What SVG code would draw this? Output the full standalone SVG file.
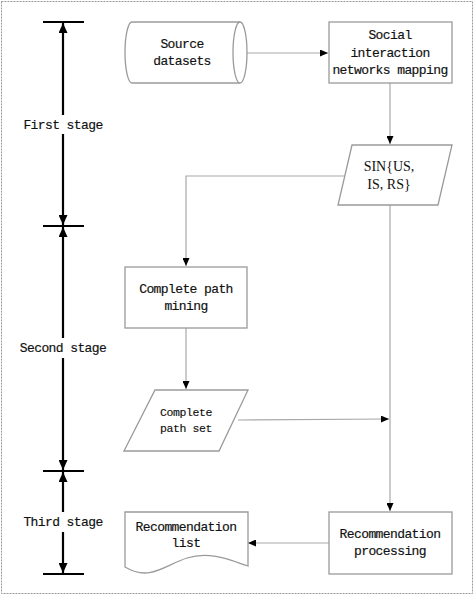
<svg xmlns="http://www.w3.org/2000/svg" width="474" height="596" viewBox="0 0 474 596">
<defs>
<style>
.t{font-family:"Liberation Mono","DejaVu Sans Mono",monospace;font-size:13px;letter-spacing:-0.6px;fill:#111;stroke:#111;stroke-width:0.18;text-anchor:middle}
.ts{font-family:"Liberation Mono","DejaVu Sans Mono",monospace;font-size:11.5px;letter-spacing:-0.4px;fill:#111;stroke:#111;stroke-width:0.15;text-anchor:middle}
.tr{font-family:"Liberation Serif","Times New Roman",serif;font-size:14px;fill:#111;text-anchor:middle}
.n{fill:#fff;stroke:#9a9a9a;stroke-width:1.3}
.c{fill:none;stroke:#a8a8a8;stroke-width:1.2}
.s{fill:none;stroke:#000;stroke-width:2.2}
.tick{stroke:#000;stroke-width:2}
</style>
<marker id="a" viewBox="0 0 8 7" refX="8" refY="3.5" markerWidth="8" markerHeight="7" markerUnits="userSpaceOnUse" orient="auto"><path d="M0,0 L8,3.5 L0,7 z" fill="#000"/></marker>
<marker id="b" viewBox="0 0 10 9" refX="10" refY="4.5" markerWidth="10" markerHeight="9" markerUnits="userSpaceOnUse" orient="auto"><path d="M0,0 L10,4.5 L0,9 z" fill="#000"/></marker>
</defs>
<rect x="1.5" y="1.5" width="471" height="592" fill="#fff" stroke="#999" stroke-width="1" stroke-dasharray="2,1"/>

<g id="stages">
<line class="tick" x1="43" y1="22" x2="84" y2="22"/>
<line class="tick" x1="43" y1="226" x2="84" y2="226"/>
<line class="tick" x1="43" y1="471" x2="84" y2="471"/>
<line class="tick" x1="43" y1="574" x2="84" y2="574"/>
<line class="s" x1="63" y1="115" x2="63" y2="23" marker-end="url(#b)"/>
<line class="s" x1="63" y1="134" x2="63" y2="225" marker-end="url(#b)"/>
<line class="s" x1="63" y1="338" x2="63" y2="227" marker-end="url(#b)"/>
<line class="s" x1="63" y1="358" x2="63" y2="470" marker-end="url(#b)"/>
<line class="s" x1="63" y1="512" x2="63" y2="472" marker-end="url(#b)"/>
<line class="s" x1="63" y1="532" x2="63" y2="573" marker-end="url(#b)"/>
<text class="t" x="63" y="129">First stage</text>
<text class="t" x="63" y="352">Second stage</text>
<text class="t" x="63" y="526">Third stage</text>
</g>

<g id="connectors">
<line class="c" x1="247" y1="53" x2="328" y2="53" marker-end="url(#a)"/>
<line class="c" x1="390" y1="83" x2="390" y2="144" marker-end="url(#a)"/>
<polyline class="c" points="345,176 186,176 186,266" marker-end="url(#a)"/>
<line class="c" x1="390" y1="205" x2="390" y2="511" marker-end="url(#a)"/>
<line class="c" x1="186" y1="328" x2="186" y2="389" marker-end="url(#a)"/>
<line class="c" x1="238" y1="420" x2="389" y2="419" marker-end="url(#a)"/>
<line class="c" x1="329" y1="543" x2="248" y2="543" marker-end="url(#a)"/>
</g>

<g id="source-datasets">
<path class="n" d="M132,22 H240 A7,30.5 0 0 1 240,83 H132 A7,30.5 0 0 1 132,22 Z"/>
<path class="n" d="M240,22 A7,30.5 0 0 0 240,83"/>
<text class="t" x="182" y="48">Source</text>
<text class="t" x="182" y="65">datasets</text>
</g>

<g id="sin-mapping">
<rect class="n" x="329" y="22" width="123" height="61"/>
<text class="t" x="390" y="39">Social</text>
<text class="t" x="390" y="57">interaction</text>
<text class="t" x="390" y="74">networks mapping</text>
</g>

<g id="sin">
<polygon class="n" points="352,145 452,145 438,205 338,205"/>
<text class="tr" x="389" y="171">SIN{US,</text>
<text class="tr" x="389" y="189">IS, RS}</text>
</g>

<g id="path-mining">
<rect class="n" x="125" y="267" width="122" height="61"/>
<text class="t" x="186" y="293">Complete path</text>
<text class="t" x="186" y="310">mining</text>
</g>

<g id="path-set">
<polygon class="n" points="155,390 248,390 219,451 124,451"/>
<text class="ts" x="186" y="416">Complete</text>
<text class="ts" x="186" y="432">path set</text>
</g>

<g id="rec-processing">
<rect class="n" x="329" y="512" width="123" height="62"/>
<text class="t" x="390" y="538">Recommendation</text>
<text class="t" x="390" y="555">processing</text>
</g>

<g id="rec-list">
<path class="n" d="M125,512 H248 V566 C230,560 210,551 187,558 C165,565 150,582 125,567 Z"/>
<text class="t" x="186" y="531">Recommendation</text>
<text class="t" x="186" y="547">list</text>
</g>
</svg>
